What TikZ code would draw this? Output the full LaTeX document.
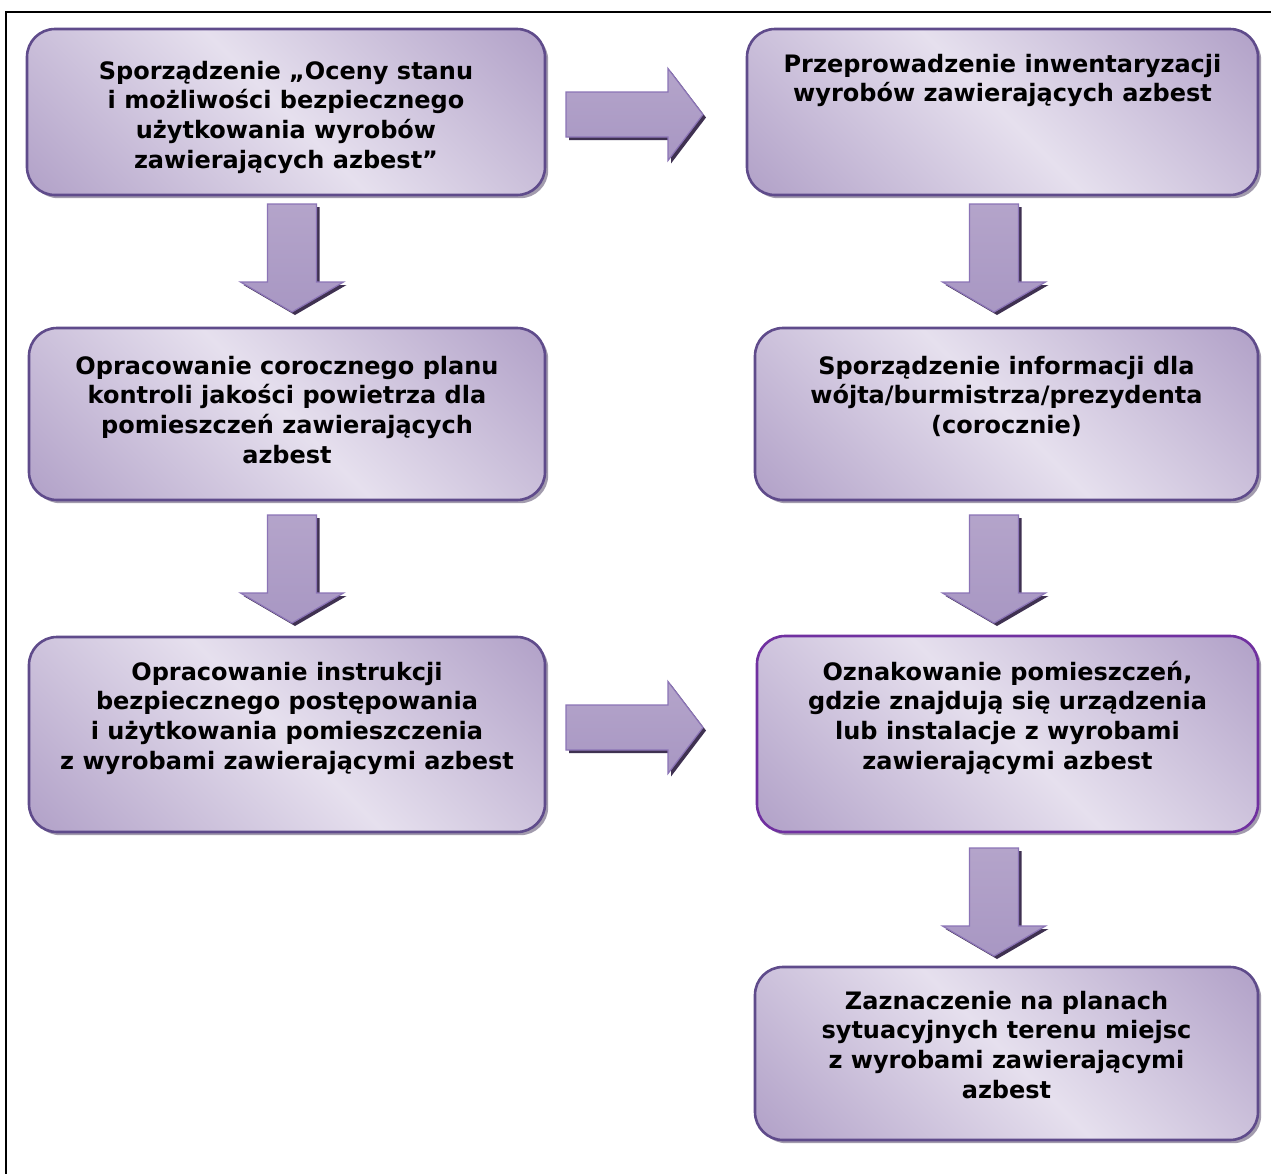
\documentclass[tikz,border=0pt]{standalone}
\usepackage{fontspec}
\setmainfont{DejaVu Sans}
\usepackage{xcolor}
\usepackage{tikz}
\usetikzlibrary{positioning, shadows}

\definecolor{boxlight}{HTML}{E6E0EE}
\definecolor{boxdark}{HTML}{B3A3C9}
\definecolor{boxedge}{HTML}{5F4B8B}
\definecolor{boxedgehi}{HTML}{7030A0}
\definecolor{boxshadow}{HTML}{A29BAD}
\definecolor{arrowlight}{HTML}{B4A4CA}
\definecolor{arrowdark}{HTML}{8064A2}
\definecolor{arrowlow}{HTML}{A897C3}
\definecolor{arrowedge}{HTML}{8B74B6}
\definecolor{arrowshade}{HTML}{3F3151}

\pgfdeclarehorizontalshading{taskshade}{100bp}{color(0bp)=(boxdark); color(16bp)=(boxdark); color(50bp)=(boxlight); color(84bp)=(boxdark); color(100bp)=(boxdark)}

\tikzset{
	node distance = 1.5em,
	line width = .75pt,
	font = \bfseries\fontsize{12}{14.8}\selectfont,
	task/.style={
		draw=boxedge,
		line width=1.3pt,
		rounded corners=14pt,
		shading=taskshade,
		shading angle=45,
		drop shadow={shadow xshift=1.6pt, shadow yshift=-1.6pt, fill=boxshadow, opacity=1},
		inner sep=0pt
	},
	tasktext/.style={
		align=center,
		inner sep=0pt
	},
	blockarrow/.style={
		draw=arrowedge,
		line width=.6pt,
		top color=arrowlight,
		middle color=arrowdark,
		bottom color=arrowlow
	},
	arrowshadow/.style={
		fill=arrowshade
	},
	frame/.style={
		draw=black,
		line width=1.1pt
	}
}

% block arrow pointing down, #1 = top centre
\newcommand{\blockdown}[1]{%
	\begin{scope}[shift={(#1)}]
		\fill[arrowshadow, xshift=1.5pt, yshift=-1.5pt] (-24.5,0) -- (24.5,0) -- (24.5,78) -- (51.5,78) -- (0,108) -- (-51.5,78) -- (-24.5,78) -- cycle;
		\draw[blockarrow] (-24.5,0) -- (24.5,0) -- (24.5,78) -- (51.5,78) -- (0,108) -- (-51.5,78) -- (-24.5,78) -- cycle;
	\end{scope}}

% block arrow pointing right, #1 = left centre
\newcommand{\blockright}[1]{%
	\begin{scope}[shift={(#1)}]
		\fill[arrowshadow, xshift=1.5pt, yshift=-1.5pt] (0,-22.5) -- (102,-22.5) -- (102,-46) -- (137,0) -- (102,46) -- (102,22.5) -- (0,22.5) -- cycle;
		\draw[blockarrow] (0,-22.5) -- (102,-22.5) -- (102,-46) -- (137,0) -- (102,46) -- (102,22.5) -- (0,22.5) -- cycle;
	\end{scope}}

\begin{document}
\begin{tikzpicture}[x=0.5pt, y=-0.5pt]
	\useasboundingbox (0,0) rectangle (1271,1174);
	\fill[white] (0,0) rectangle (1271,1174);
	\draw[frame] (1290,12) -- (6,12) -- (6,1190);

	% left column
	\node[task, minimum width=259pt, minimum height=83pt] (l1) at (286,112) {};
	\node[task, minimum width=258pt, minimum height=86pt] (l2) at (287,414) {};
	\node[task, minimum width=258pt, minimum height=97.5pt] (l3) at (287,734.5) {};
	% right column
	\node[task, minimum width=255.5pt, minimum height=83pt] (r1) at (1002.5,112) {};
	\node[task, minimum width=251.5pt, minimum height=86pt] (r2) at (1006.5,414) {};
	\node[task, draw=boxedgehi, minimum width=250.5pt, minimum height=98pt] (r3) at (1007.5,734) {};
	\node[task, minimum width=251.5pt, minimum height=86.5pt] (r4) at (1006.5,1053.5) {};

	\node[tasktext, below=16.5pt of l1.north] (l1t) {Sporządzenie „Oceny stanu\\i możliwości bezpiecznego\\użytkowania wyrobów\\zawierających azbest”};
	\node[tasktext, below=14.5pt of l2.north] (l2t) {Opracowanie corocznego planu\\kontroli jakości powietrza dla\\pomieszczeń zawierających\\azbest};
	\node[tasktext, below=13pt of l3.north] (l3t) {Opracowanie instrukcji\\bezpiecznego postępowania\\i użytkowania pomieszczenia\\z wyrobami zawierającymi azbest};
	\node[tasktext, below=13pt of r1.north] (r1t) {Przeprowadzenie inwentaryzacji\\wyrobów zawierających azbest};
	\node[tasktext, below=14.5pt of r2.north] (r2t) {Sporządzenie informacji dla\\wójta/burmistrza/prezydenta\\(corocznie)};
	\node[tasktext, below=13pt of r3.north] (r3t) {Oznakowanie pomieszczeń,\\gdzie znajdują się urządzenia\\lub instalacje z wyrobami\\zawierającymi azbest};
	\node[tasktext, below=12.5pt of r4.north] (r4t) {Zaznaczenie na planach\\sytuacyjnych terenu miejsc\\z wyrobami zawierającymi\\azbest};

	% arrows
	\coordinate (dl1) at (292,204);
	\coordinate (dl2) at (292,515);
	\coordinate (dr1) at (994,204);
	\coordinate (dr2) at (994,515);
	\coordinate (dr3) at (994,848);
	\coordinate (hr1) at (566,114.5);
	\coordinate (hr2) at (566,727.5);
	\foreach \p in {dl1,dl2,dr1,dr2,dr3} {
		\blockdown{\p}
	}
	\foreach \p in {hr1,hr2} {
		\blockright{\p}
	}
\end{tikzpicture}
\end{document}
